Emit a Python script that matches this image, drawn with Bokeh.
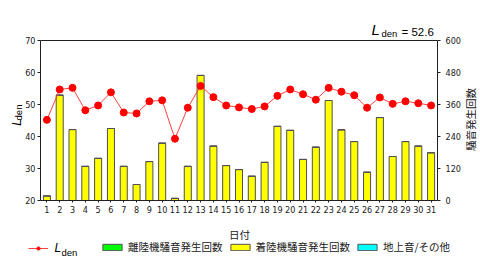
from bokeh.plotting import figure
from bokeh.models import (ColumnDataSource, Range1d, LinearAxis, FixedTicker,
                          Legend, LegendItem, Label)
from bokeh.embed import file_html
from bokeh.resources import INLINE

days = list(range(1, 32))
day_labels = [str(d) for d in days]
lden = [45.2, 54.7, 55.2, 48.2, 49.7, 53.8, 47.5, 47.2, 51.0, 51.3, 39.3,
        49.0, 55.8, 52.3, 49.7, 49.1, 48.6, 49.4, 52.7, 54.7, 53.2, 51.5,
        55.2, 54.0, 52.9, 49.0, 52.2, 50.2, 51.0, 50.4, 49.7]
departures = [0] * 31
arrivals = [17, 395, 266, 128, 158, 270, 128, 60, 146, 215, 8, 128, 469, 204,
            131, 116, 91, 143, 278, 263, 154, 200, 375, 265, 221, 106, 311,
            165, 221, 204, 179]
ground = [0] * 31
lden_total = "52.6"
left_ticks = [20, 30, 40, 50, 60, 70]
right_ticks = [0, 120, 240, 360, 480, 600]

NUM_FONT = "'Liberation Sans Narrow', 'DejaVu Sans Condensed', 'Liberation Sans', sans-serif"
JP_FONT = "Noto Sans CJK JP"
AX = "#202020"

src = ColumnDataSource(dict(day=days, lden=lden, dep=departures, arr=arrivals, gnd=ground))

W, H = 480, 263
# plot-box position on the canvas (pixels)
FL, FR, FT, FB = 40, 437, 40, 200
XMIN, XMAX = 0.5, 31.5
YMIN, YMAX = 20, 70
CMIN, CMAX = 0, 600
xs = (FR - FL) / (XMAX - XMIN)
ys = (FB - FT) / (YMAX - YMIN)
cs = (FB - FT) / (CMAX - CMIN)

# the frame covers the whole canvas; axes are pinned to the plot-box edges
p = figure(width=W, height=H, output_backend="svg", toolbar_location=None,
           x_range=Range1d(XMIN - FL / xs, XMAX + (W - FR) / xs),
           y_range=Range1d(YMIN - (H - FB) / ys, YMAX + FT / ys),
           min_border=0, x_axis_location=None, y_axis_location=None)
p.extra_y_ranges = {"count": Range1d(CMIN - (H - FB) / cs, CMAX + FT / cs)}
p.xgrid.visible = False
p.ygrid.visible = False
p.outline_line_color = None
p.background_fill_color = "white"
p.border_fill_color = "white"

def style_axis(a):
    a.minor_tick_line_color = None
    a.major_tick_in = 0
    a.major_label_text_font = NUM_FONT
    a.major_label_text_font_size = "9px"
    a.major_label_text_color = AX
    a.axis_line_color = AX
    a.major_tick_line_color = AX

xa = LinearAxis(ticker=FixedTicker(ticks=days), fixed_location=YMIN,
                bounds=(XMIN, XMAX))
style_axis(xa)
xa.major_label_overrides = {d: s for d, s in zip(days, day_labels)}
xa.major_tick_out = 2
xa.major_label_standoff = 3
p.add_layout(xa, "below")

ta = LinearAxis(ticker=FixedTicker(ticks=[]), fixed_location=YMAX,
                bounds=(XMIN, XMAX))
style_axis(ta)
ta.major_label_text_font_size = "0px"
p.add_layout(ta, "above")

la = LinearAxis(ticker=FixedTicker(ticks=left_ticks), fixed_location=XMIN,
                bounds=(YMIN, YMAX))
style_axis(la)
la.major_tick_out = 3
la.major_label_standoff = 2
p.add_layout(la, "left")

ra = LinearAxis(y_range_name="count", ticker=FixedTicker(ticks=right_ticks),
                fixed_location=XMAX, bounds=(CMIN, CMAX))
style_axis(ra)
ra.major_tick_out = 3
ra.major_label_standoff = 5
p.add_layout(ra, "right")

# bars
bars = p.vbar_stack(["dep", "arr", "gnd"], x="day", width=0.55, source=src,
                    y_range_name="count",
                    fill_color=["#00ff00", "#ffff00", "#00ffff"],
                    line_color="#505050", line_width=1)

# Lden line
ln = p.line("day", "lden", source=src, line_color="#ff4040", line_width=1)
sc = p.scatter("day", "lden", source=src, size=7, fill_color="#ff0000",
               line_color="#ff0000")

def X(px):
    return XMIN + (px - FL) / xs

def Y(py):
    return YMAX - (py - FT) / ys

def add_label(text, px, py, size, font="Liberation Sans", style="normal",
              angle=0, align="left", baseline="middle", color="#000000"):
    p.add_layout(Label(x=X(px), y=Y(py), text=text, text_font=font,
                       text_font_size=size, text_font_style=style, angle=angle,
                       text_align=align, text_baseline=baseline,
                       text_color=color))

# top-right annotation
add_label("L", 371, 29, "15px", style="italic")
add_label("den", 381, 33, "9.5px")
add_label("= " + lden_total, 401, 31, "11.5px")

# left axis title (rotated)
add_label("L", 16, 122, "12px", style="italic", angle=1.5708, align="center")
add_label("den", 18, 112, "9.5px", angle=1.5708, align="center")

# right axis title (rotated)
add_label("騒音発生回数", 470, 119, "10.5px", font=JP_FONT, angle=1.5708,
          align="center", color=AX)

# x axis title
add_label("日付", 239, 234, "10.5px", font=JP_FONT, align="center", color=AX)

# legend
legA = Legend(items=[LegendItem(label=" ", renderers=[ln, sc])],
              location=(28, H - 254), orientation="horizontal",
              glyph_width=20, glyph_height=8, label_height=12, padding=0,
              margin=0, label_standoff=2, background_fill_alpha=0,
              border_line_alpha=0, label_text_font_size="10px")
p.add_layout(legA)
add_label("L", 54, 247, "12px", style="italic")
add_label("den", 61, 252, "9.5px")

legB = Legend(items=[LegendItem(label="離陸機騒音発生回数", renderers=[bars[0]]),
                     LegendItem(label="着陸機騒音発生回数", renderers=[bars[1]]),
                     LegendItem(label="地上音/その他", renderers=[bars[2]])],
              location=(100, H - 254), orientation="horizontal",
              glyph_width=24, glyph_height=8, label_height=12, padding=0,
              margin=0, spacing=5, label_standoff=4, background_fill_alpha=0,
              border_line_alpha=0, label_text_font=JP_FONT,
              label_text_font_size="10.5px", label_text_color=AX)
p.add_layout(legB)

open("out.html", "w").write(file_html(p, INLINE))
